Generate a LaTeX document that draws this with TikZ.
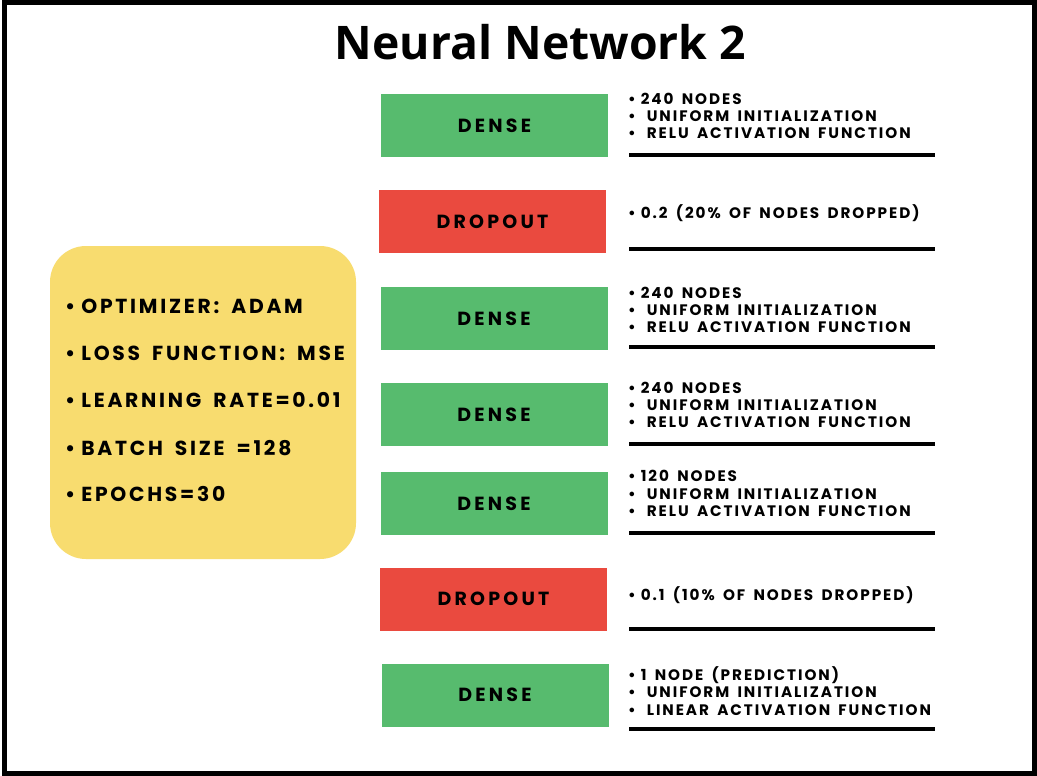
\documentclass[tikz,border=0pt]{standalone}
\usepackage{fontspec}
\newfontfamily\titlefont{Open Sans}
\newfontfamily\lblfont{Poppins}[LetterSpace=17]
\newfontfamily\bulfont{Poppins}[LetterSpace=12.8,WordSpace=1.6]
\newfontfamily\parfont{Poppins}[LetterSpace=13.5,WordSpace=1.7]
\definecolor{densegreen}{HTML}{57BB6E}
\definecolor{dropred}{HTML}{EA4A3F}
\definecolor{paramyellow}{HTML}{F8DC6F}
\tikzset{
  layerbox/.style={minimum width=227pt, minimum height=63pt, inner sep=0pt,
    font=\lblfont\bfseries\fontsize{19}{22}\selectfont},
  densebox/.style={layerbox, fill=densegreen},
  dropbox/.style={layerbox, fill=dropred},
  infotext/.style={anchor=west, inner sep=0pt, align=left,
    font=\bulfont\bfseries\fontsize{15.2}{17.2}\selectfont},
  rule/.style={line width=3.5pt},
  paramtext/.style={anchor=west, inner sep=0pt,
    font=\parfont\bfseries\fontsize{20.3}{23}\selectfont},
}
\newcommand{\bfirst}{•\hspace{5pt}}
\newcommand{\bnext}{•\hspace{11pt}}
\newcommand{\bpar}{•\hspace{6pt}}
\begin{document}
\begin{tikzpicture}[x=1pt,y=-1pt]
\useasboundingbox (0,0) rectangle (1037,776);
\fill[white] (0,0) rectangle (1037,776);
\draw[line width=5pt] (4.5,2.5) rectangle (1034.5,773.5);

\node[font=\titlefont\bfseries\fontsize{46.3}{54}\selectfont, inner sep=0pt] (title) at (540.5,42) {Neural Network 2};

% parameter box
\node[fill=paramyellow, rounded corners=36pt, minimum width=306pt, minimum height=313pt, inner sep=0pt] (params) at (203,402.5) {};
\node[paramtext] (p1) at (65,306) {\bpar OPTIMIZER: ADAM};
\node[paramtext] (p2) at (65,353) {\bpar LOSS FUNCTION: MSE};
\node[paramtext] (p3) at (65,400) {\bpar LEARNING RATE=0.01};
\node[paramtext] (p4) at (65,448) {\bpar BATCH SIZE =128};
\node[paramtext] (p5) at (65,494) {\bpar EPOCHS=30};

% layers
\node[densebox] (d1) at (494.5,125.5) {DENSE};
\node[dropbox]  (r1) at (492.5,221.5) {DROPOUT};
\node[densebox] (d2) at (494,318.5) {DENSE};
\node[densebox] (d3) at (494,414.5) {DENSE};
\node[densebox] (d4) at (494,503.5) {DENSE};
\node[dropbox]  (r2) at (493.5,599) {DROPOUT};
\node[densebox] (d5) at (495,695) {DENSE};

% descriptions
\node[infotext] (t1) at (628,116) {\bfirst 240 NODES\\ \bnext UNIFORM INITIALIZATION\\ \bnext RELU ACTIVATION FUNCTION};
\node[infotext] (t2) at (628,213) {\bfirst 0.2 (20\% OF NODES DROPPED)};
\node[infotext] (t3) at (628,310) {\bfirst 240 NODES\\ \bnext UNIFORM INITIALIZATION\\ \bnext RELU ACTIVATION FUNCTION};
\node[infotext] (t4) at (628,405) {\bfirst 240 NODES\\ \bnext UNIFORM INITIALIZATION\\ \bnext RELU ACTIVATION FUNCTION};
\node[infotext] (t5) at (628,493.5) {\bfirst 120 NODES\\ \bnext UNIFORM INITIALIZATION\\ \bnext RELU ACTIVATION FUNCTION};
\node[infotext] (t6) at (628,595) {\bfirst 0.1 (10\% OF NODES DROPPED)};
\node[infotext] (t7) at (628,691) {\bfirst 1 NODE (PREDICTION)\\ \bnext UNIFORM INITIALIZATION\\ \bnext LINEAR ACTIVATION FUNCTION};

% separator rules
\foreach \yy in {155,249,347,444,533,629,729}
  \draw[rule] (629,\yy) -- (935,\yy);
\end{tikzpicture}
\end{document}
